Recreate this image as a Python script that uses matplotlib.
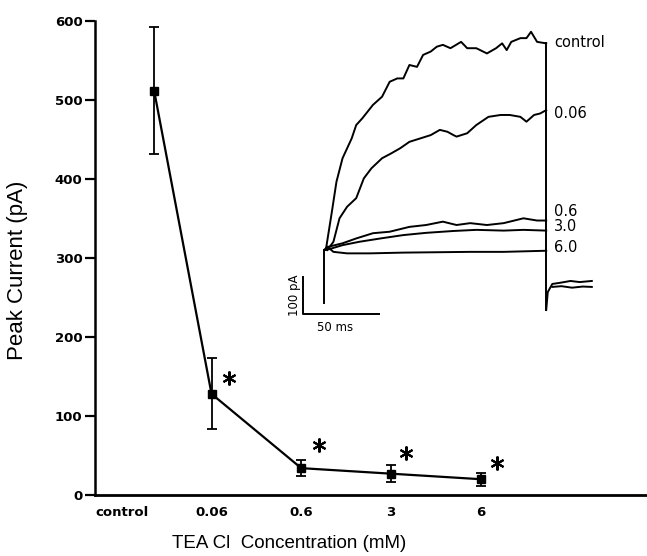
import matplotlib
matplotlib.use("Agg")
import matplotlib.pyplot as plt

# ---------------- main plot data ----------------
concentration_labels = ["control", "0.06", "0.6", "3", "6"]
point_pos = [0.36, 1, 2, 3, 4]
peak_current = [512, 128, 34, 27, 20]
peak_sem = [80, 45, 10, 11, 8]
star_pos = [1.2, 2.2, 3.17, 4.18]
star_height = [148, 63, 53, 40]

# ---------------- inset traces (ms, pA) ----------------
control_t = [1, 5, 8, 12, 18, 21, 25, 32, 38, 43, 48, 52, 56, 61, 65, 70, 74, 78, 83,
             90, 94, 100, 107, 113, 117, 120, 123, 129, 133, 136, 140, 146]
control_i = [0, 103, 183, 246, 299, 335, 353, 389, 411, 451, 460, 460, 496, 491, 523,
             532, 545, 550, 541, 558, 541, 541, 527, 541, 554, 536, 558, 568, 568, 585,
             558, 554]
c006_t = [2, 6, 10, 15, 21, 26, 31, 38, 44, 50, 56, 63, 70, 76, 81, 85, 87, 94, 100,
          108, 116, 122, 129, 133, 138, 142, 146]
c006_i = [0, 22, 85, 116, 139, 192, 219, 246, 259, 273, 290, 299, 308, 322, 317, 308,
          304, 313, 335, 357, 362, 362, 357, 344, 362, 366, 375]
c06_t = [0, 3, 12, 21, 32, 43, 56, 67, 78, 87, 96, 107, 118, 131, 140, 146]
c06_i = [0, 9, 18, 31, 45, 49, 62, 67, 76, 67, 72, 67, 72, 85, 79, 79]
c30_t = [0, 3, 12, 23, 37, 52, 67, 85, 100, 118, 131, 146]
c30_i = [0, 2, 13, 22, 31, 40, 46, 51, 54, 52, 54, 52]
c60_t = [0, 2, 6, 15, 30, 52, 74, 96, 118, 146]
c60_i = [0, 9, -5, -9, -9, -7, -6, -5, -5, -2]
onset_t = [0, 0]
onset_i = [-142, 0]
offset_t = [146, 146]
offset_i = [554, -161]
tail1_t = [146, 147, 150, 155, 162, 168, 176]
tail1_i = [-161, -113, -91, -88, -83, -86, -83]
tail2_t = [150, 156, 163, 170, 176]
tail2_i = [-99, -97, -101, -98, -99]
trace_labels = ["control", "0.06", "0.6", "3.0", "6.0"]
scale_ms = 50
scale_pa = 100

fig = plt.figure(figsize=(6.47, 5.56), dpi=100)
W, H = 647, 556

def fx(px):
    return px / W

def fy(py):
    return 1 - py / H

# ---------------- main axes ----------------
ax = fig.add_axes([fx(95), fy(495), (647 - 95) / W, (495 - 21) / H])
ax.set_xlim(-0.299, 5.855)
ax.set_ylim(0, 600)
for s in ("top", "right"):
    ax.spines[s].set_visible(False)
ax.spines["left"].set_linewidth(1.8)
ax.spines["bottom"].set_linewidth(2.0)

ax.errorbar(point_pos, peak_current, yerr=peak_sem, fmt="none", ecolor="black",
            elinewidth=1.3, capsize=3.5, capthick=1.3, clip_on=False, zorder=3)
ax.plot(point_pos, peak_current, color="black", lw=1.6, marker="s", ms=5.5,
        mfc="black", mec="black", clip_on=False, zorder=4)
ax.plot(star_pos, star_height, linestyle="none", marker=(6, 2, 0), ms=10,
        mew=1.5, color="black", clip_on=False)

ax.set_xticks(range(len(concentration_labels)))
ax.set_xticklabels(concentration_labels, fontsize=9.5, fontweight="bold",
                   family="DejaVu Sans")
ax.tick_params(axis="x", length=0, pad=8)
ax.set_yticks([0, 100, 200, 300, 400, 500, 600])
ax.set_yticklabels(["0", "100", "200", "300", "400", "500", "600"], fontsize=9.5,
                   fontweight="bold", family="DejaVu Sans")
ax.tick_params(axis="y", length=7, width=1.6, pad=2, direction="out")

fig.text(fx(18), fy(270), "Peak Current (pA)", rotation=90, ha="center",
         va="center", fontsize=16, family=["Liberation Sans", "DejaVu Sans"])
fig.text(fx(289), fy(543), "TEA Cl  Concentration (mM)", ha="center", va="center",
         fontsize=13.5, family=["Liberation Sans", "DejaVu Sans"])

# ---------------- inset ----------------
T0, MSPX, I0, PAPX = 324.3, 1.52, 250.0, 0.373
L, R, T, B = 280, 600, 20, 340
ax2 = fig.add_axes([fx(L), fy(B), (R - L) / W, (B - T) / H])
ax2.set_xlim((L - T0) / MSPX, (R - T0) / MSPX)
ax2.set_ylim((I0 - B) / PAPX, (I0 - T) / PAPX)
ax2.axis("off")
ax2.patch.set_alpha(0)

lw = 1.4
for t, i in [(control_t, control_i), (c006_t, c006_i), (c06_t, c06_i),
             (c30_t, c30_i), (c60_t, c60_i), (onset_t, onset_i),
             (offset_t, offset_i), (tail1_t, tail1_i), (tail2_t, tail2_i)]:
    ax2.plot(t, i, color="black", lw=lw, solid_joinstyle="round")

label_y = [555, 367, 102, 64, 8]
for lab, y in zip(trace_labels, label_y):
    ax2.text(151, y, lab, ha="left", va="center", fontsize=10.5,
             family="DejaVu Sans")

bx, by = -13.8, -172
ax2.plot([bx, bx, bx + scale_ms], [by + scale_pa, by, by], color="black", lw=1.4)
ax2.text(bx - 6, by + scale_pa / 2, f"{scale_pa} pA", rotation=90, ha="center",
         va="center", fontsize=8.5, family="DejaVu Sans")
ax2.text(bx + 21, by - 36, f"{scale_ms} ms", ha="center", va="center",
         fontsize=8.5, family="DejaVu Sans")

fig.savefig("out.png", dpi=100)
